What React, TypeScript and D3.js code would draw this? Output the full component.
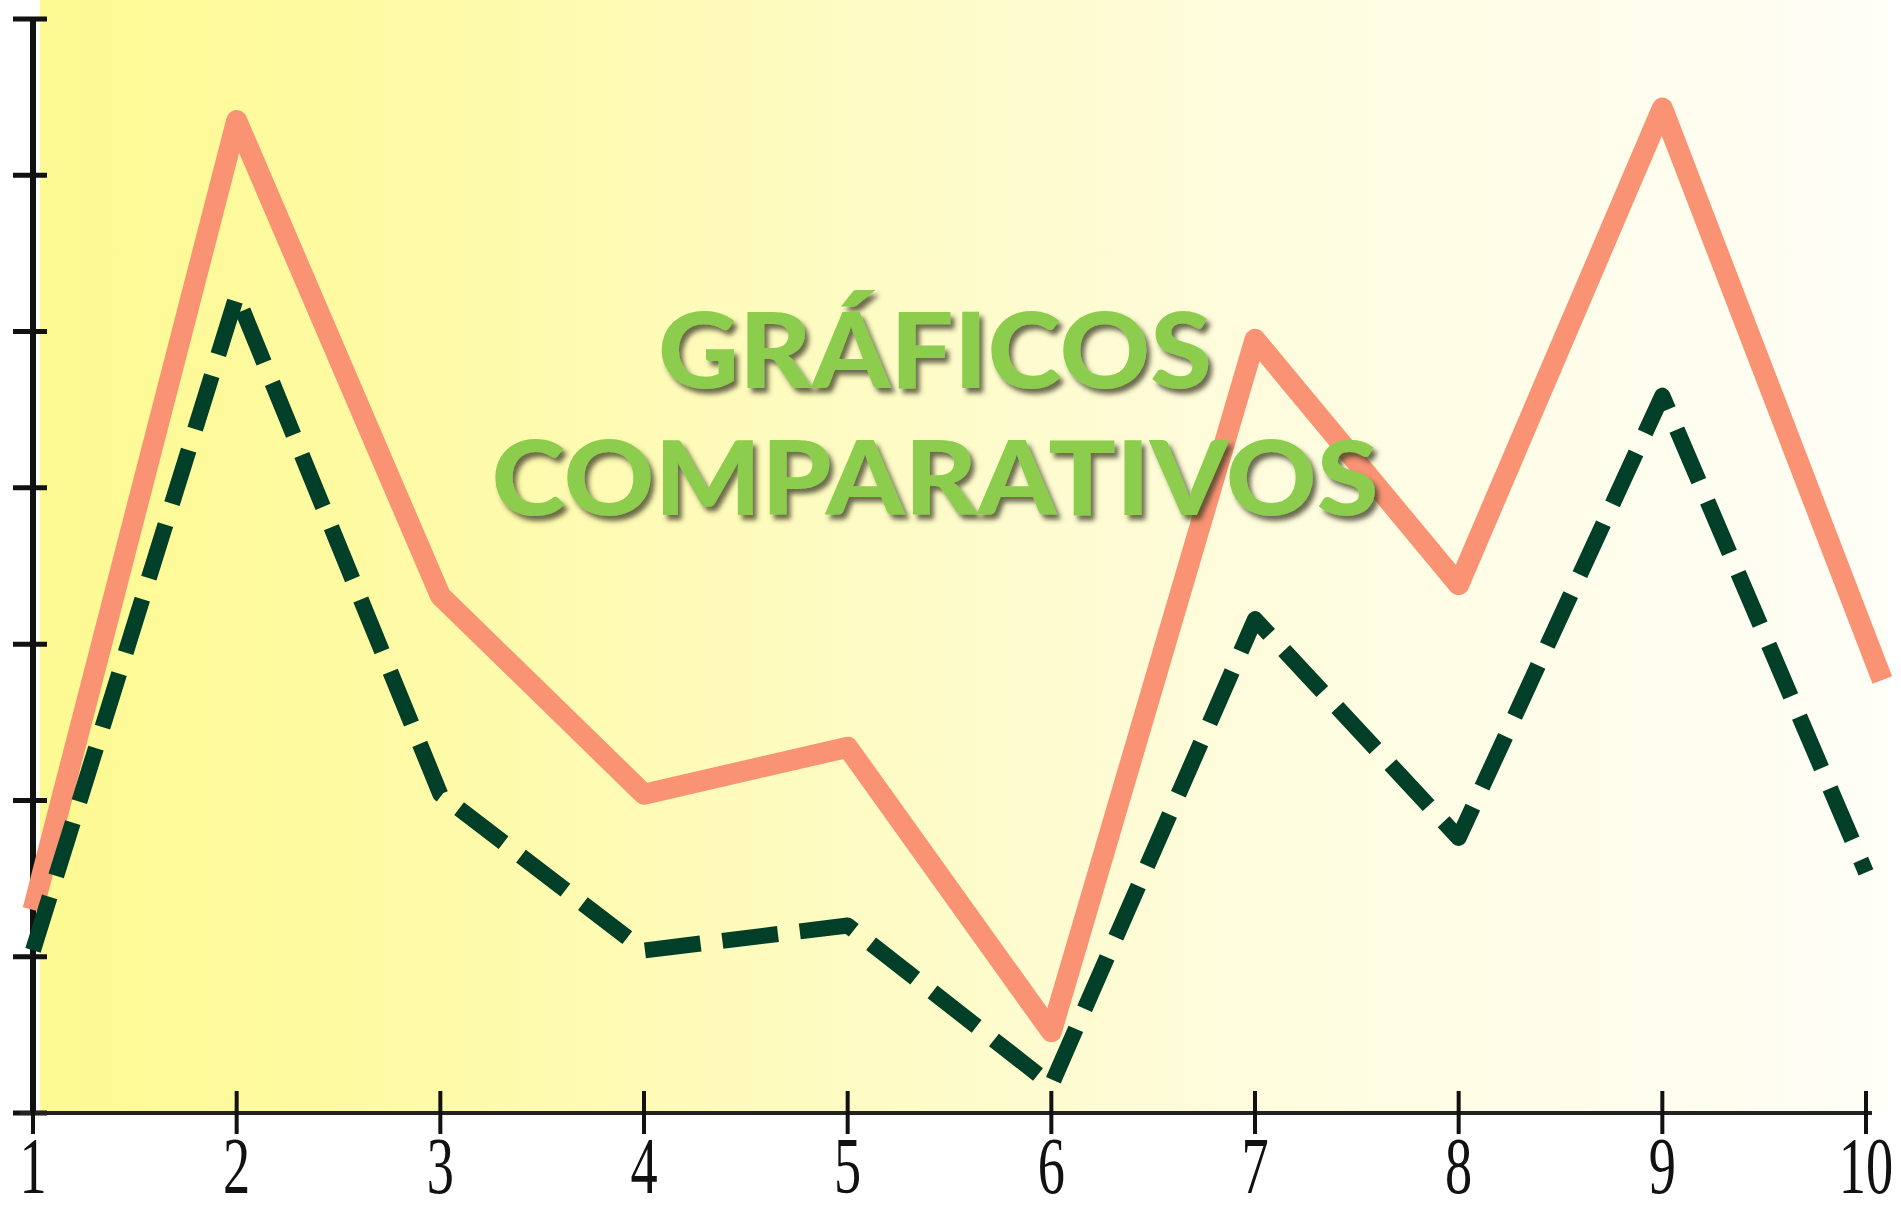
import React from "react";
import * as d3 from "d3";

// x categories and the two series (y ticks are 0..7)
const categories = [1, 2, 3, 4, 5, 6, 7, 8, 9, 10];
const orangeX = [1, 2, 3, 4, 5, 6, 7, 8, 9, 10.08];
const orangeValues = [1.3, 6.35, 3.31, 2.04, 2.34, 0.52, 4.95, 3.38, 6.43, 2.77];
const greenValues = [1.04, 5.23, 2.04, 1.04, 1.2, 0.18, 3.16, 1.76, 4.59, 1.54];
const yTickValues = [0, 1, 2, 3, 4, 5, 6, 7];
const titleLines = ["GRÁFICOS", "COMPARATIVOS"];

export default function App() {
    const width = 1901, height = 1211;

    const xScale = d3.scaleLinear().domain([1, 10]).range([33, 1866]);
    const yScale = d3.scaleLinear().domain([0, 7]).range([1113, 19]);

    const line = d3.line<[number, number]>()
        .x(d => xScale(d[0]))
        .y(d => yScale(d[1]));

    const orangePts: [number, number][] = orangeValues.map((v, i) => [orangeX[i], v]);
    const greenPts: [number, number][] = greenValues.map((v, i) => [categories[i], v]);

    const plotTop = 0, plotBottom = yScale(0), plotLeft = 40, plotRight = 1887;

    return (
        <div style={{position: "absolute", left: 0, top: 0}}>
            <svg width={width} height={height} style={{display: "block"}}>
                <defs>
                    <linearGradient id="bg" x1="0" x2="1" y1="0" y2="0">
                        <stop offset="0" stopColor="#fdfa93"/>
                        <stop offset="0.15" stopColor="#fefaa0"/>
                        <stop offset="0.4" stopColor="#fefbbf"/>
                        <stop offset="0.65" stopColor="#fefcdc"/>
                        <stop offset="1" stopColor="#fffef7"/>
                    </linearGradient>
                    <filter id="shadow" x="-10%" y="-20%" width="120%" height="150%">
                        <feDropShadow dx="4" dy="5" stdDeviation="2.5" floodColor="#3b3b22" floodOpacity="0.75"/>
                    </filter>
                </defs>

                <rect x={0} y={0} width={width} height={height} fill="#ffffff"/>
                <rect x={plotLeft} y={plotTop} width={plotRight - plotLeft} height={plotBottom - plotTop} fill="url(#bg)"/>

                {/* y axis */}
                <line x1={xScale(1)} x2={xScale(1)} y1={yScale(7)} y2={yScale(0)} stroke="#111" strokeWidth={6}/>
                {yTickValues.map(t => (
                    <line key={"yt" + t} x1={13} x2={47} y1={yScale(t)} y2={yScale(t)} stroke="#111" strokeWidth={5}/>
                ))}

                {/* x axis */}
                <line x1={20} x2={1872} y1={yScale(0)} y2={yScale(0)} stroke="#222" strokeWidth={4}/>
                {categories.map(c => (
                    <g key={"xt" + c} transform={`translate(${xScale(c)},0)`}>
                        <line x1={0} x2={0} y1={1091} y2={1134} stroke="#111" strokeWidth={4}/>
                        <text transform="translate(0,1193) scale(0.68,1)" textAnchor="middle"
                              fontFamily="Liberation Serif, serif" fontSize={80} fill="#111">{c}</text>
                    </g>
                ))}

                {/* series */}
                <path d={line(orangePts) || ""} fill="none" stroke="#fa9274" strokeWidth={21}
                      strokeLinejoin="round" strokeLinecap="butt"/>
                <path d={line(greenPts) || ""} fill="none" stroke="#023f29" strokeWidth={16}
                      strokeDasharray="56 22" strokeLinejoin="round" strokeLinecap="butt"/>

                {/* title */}
                <g filter="url(#shadow)" fontFamily="Lato, sans-serif" fontWeight={900} fill="#8dcd4d" textAnchor="middle">
                    <text x={935} y={388} fontSize={104} textLength={554} lengthAdjust="spacingAndGlyphs">{titleLines[0]}</text>
                    <text x={935} y={515} fontSize={102} textLength={887} lengthAdjust="spacingAndGlyphs">{titleLines[1]}</text>
                </g>
            </svg>
        </div>
    );
}
